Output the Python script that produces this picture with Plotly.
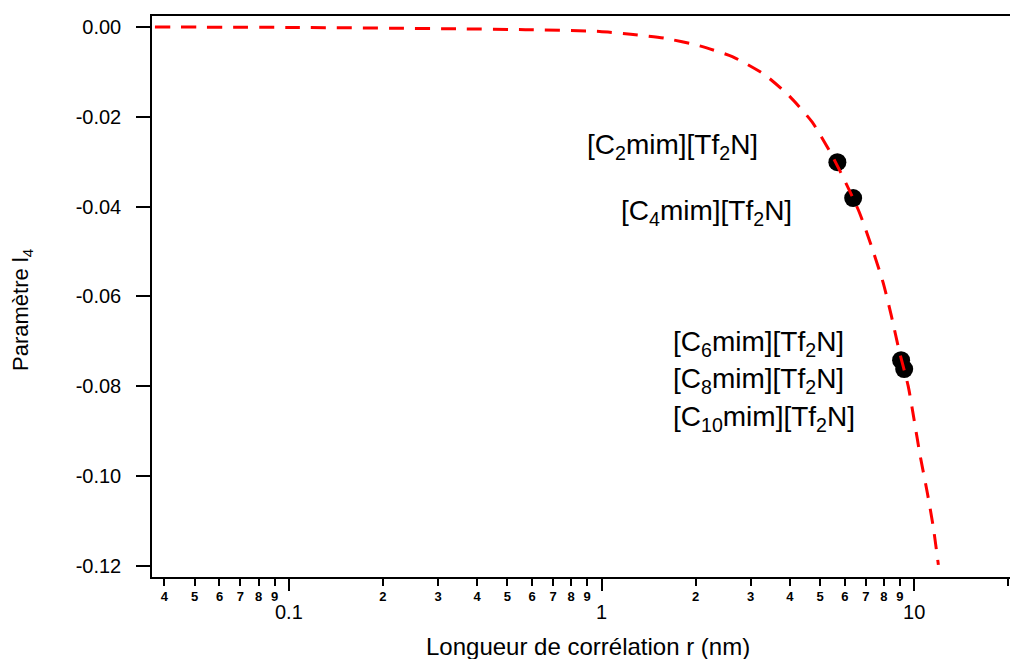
import plotly.graph_objects as go
import math

# Measured points (correlation length r in nm, parameter l4)
point_r = [5.68, 6.38, 9.08, 9.29]
point_l4 = [-0.0301, -0.0381, -0.0742, -0.0762]

# Dashed fit curve
curve_r = [0.0373, 0.108, 0.344, 0.571, 0.986, 1.24, 1.59, 2.06, 2.62, 3.32, 3.99,
           4.72, 5.43, 6.07, 6.67, 7.29, 7.96, 8.45, 8.96, 9.57, 10.0, 10.45, 11.0,
           11.5, 11.95]
curve_l4 = [0.0, -0.0001, -0.0004, -0.0006, -0.0010, -0.0016, -0.0025, -0.0042,
            -0.0066, -0.0106, -0.0154, -0.0212, -0.0283, -0.0350, -0.0412, -0.0487,
            -0.0570, -0.0643, -0.0722, -0.0800, -0.0876, -0.0955, -0.1035, -0.1112,
            -0.1198]

# Labels (text, x in nm, y in data units)
label_text = ["[C<sub>2</sub>mim][Tf<sub>2</sub>N]", "[C<sub>4</sub>mim][Tf<sub>2</sub>N]",
              "[C<sub>6</sub>mim][Tf<sub>2</sub>N]", "[C<sub>8</sub>mim][Tf<sub>2</sub>N]",
              "[C<sub>10</sub>mim][Tf<sub>2</sub>N]"]
label_x = [0.883, 1.14, 1.674, 1.674, 1.674]
label_y = [-0.0267, -0.0414, -0.0704, -0.0788, -0.0871]

minor_vals = [0.04, 0.05, 0.06, 0.07, 0.08, 0.09,
              0.2, 0.3, 0.4, 0.5, 0.6, 0.7, 0.8, 0.9,
              2, 3, 4, 5, 6, 7, 8, 9, 20]
minor_text = ["4", "5", "6", "7", "8", "9",
              "2", "3", "4", "5", "6", "7", "8", "9",
              "2", "3", "4", "5", "6", "7", "8", "9", "2"]
major_vals = [0.1, 1, 10]
major_text = ["0.1", "1", "10"]

y_ticks = [0.0, -0.02, -0.04, -0.06, -0.08, -0.10, -0.12]
y_text = ["0.00", "-0.02", "-0.04", "-0.06", "-0.08", "-0.10", "-0.12"]

FONT = "Arial, Liberation Sans, sans-serif"
xr = [math.log10(0.0365), math.log10(20.25)]
yr = [-0.1225, 0.00245]

fig = go.Figure()
fig.add_trace(go.Scatter(x=curve_r, y=curve_l4, mode="lines", xaxis="x2",
                         line=dict(color="#ff0000", width=3, dash="15px,11px",
                                   shape="spline", smoothing=0.6),
                         hoverinfo="skip", showlegend=False))
fig.add_trace(go.Scatter(x=point_r, y=point_l4, mode="markers",
                         marker=dict(color="black", size=18),
                         showlegend=False))

for t, x, y in zip(label_text, label_x, label_y):
    fig.add_annotation(x=math.log10(x), y=y, text=t, showarrow=False,
                       xanchor="left", yanchor="middle",
                       font=dict(family=FONT, size=28, color="black"))

fig.add_annotation(xref="paper", yref="paper", x=0.508, y=-0.123,
                   text="Longueur de corrélation r (nm)", showarrow=False,
                   xanchor="center", yanchor="middle",
                   font=dict(family=FONT, size=24, color="black"))
fig.add_annotation(xref="paper", yref="paper", x=-0.1515, y=0.476,
                   text="Paramètre l<sub>4</sub>", showarrow=False, textangle=-90,
                   xanchor="center", yanchor="middle",
                   font=dict(family=FONT, size=22, color="black"))

fig.update_layout(
    width=1010, height=659,
    margin=dict(l=152, r=0, t=16, b=82, pad=0),
    plot_bgcolor="white", paper_bgcolor="white",
    font=dict(family=FONT, color="black"),
    xaxis=dict(type="log", range=xr, showgrid=False, zeroline=False, automargin=False,
               showline=True, linecolor="black", linewidth=1.5, mirror=True,
               ticks="outside", ticklen=7, tickwidth=1.5, tickcolor="black",
               tickmode="array", tickvals=minor_vals,
               ticktext=["<b>" + s + "</b>" for s in minor_text],
               tickfont=dict(size=13, family=FONT, color="black"),
               ticklabelstandoff=0),
    xaxis2=dict(type="log", range=xr, overlaying="x", anchor="y", side="bottom",
                showgrid=False, zeroline=False, showline=False, automargin=False,
                ticks="outside", ticklen=13, tickwidth=1.5, tickcolor="black",
                tickmode="array", tickvals=major_vals, ticktext=major_text,
                tickfont=dict(size=20, family=FONT, color="black"),
                ticklabelstandoff=4),
    yaxis=dict(range=yr, showgrid=False, zeroline=False, automargin=False,
               showline=True, linecolor="black", linewidth=1.5,
               ticks="outside", ticklen=14, tickwidth=1.5, tickcolor="black",
               tickmode="array", tickvals=y_ticks, ticktext=y_text,
               tickfont=dict(size=20, family=FONT, color="black"),
               ticklabelstandoff=11),
)

fig.write_html("out.html",
               config={"displayModeBar": False},
               post_script="document.body.style.margin='0';"
                           "document.body.style.overflow='hidden';")
